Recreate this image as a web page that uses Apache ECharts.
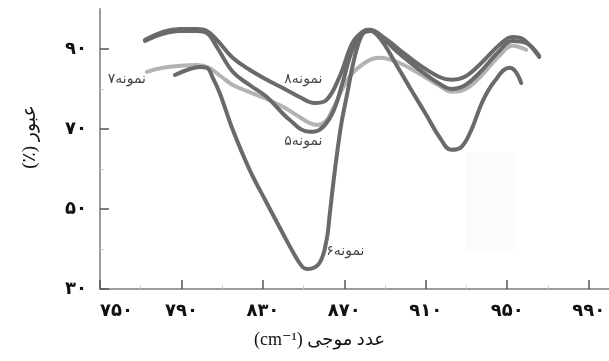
<!DOCTYPE html>
<html>
<head>
<meta charset="utf-8">
<script src="https://cdn.jsdelivr.net/npm/echarts@6/dist/echarts.min.js"></script>
<style>html,body{margin:0;padding:0;background:#fff}#c{width:609px;height:361px}</style>
</head>
<body>
<div id="c"></div>
<script>
// ---- data ----
const xTicks = [750, 790, 830, 870, 910, 950, 990];
const xMinor = [770, 810, 850, 890, 930, 970];
const yTicks = [30, 50, 70, 90];
const yMinor = [40, 60, 80];

const sample8 = [[772.1,92.3],[780.9,94.3],[789.2,95.0],[797.5,95.0],[802.5,94.5],[807.4,92.3],[815.2,87.8],[823.5,84.8],[831.9,82.3],[840.7,80.0],[848.0,78.0],[855.4,76.5],[861.3,77.3],[867.6,83.0],[874.0,91.5],[878.9,94.3],[882.4,94.8],[889.7,92.8],[897.1,89.8],[906.9,86.0],[916.7,83.0],[922.5,82.3],[928.9,83.0],[936.3,86.0],[946.1,91.0],[952.5,93.0],[958.3,92.3],[965.7,88.0]];
const sample5 = [[772.1,92.0],[780.9,93.8],[789.2,94.5],[797.5,94.5],[802.5,94.0],[807.4,90.5],[815.2,84.3],[823.5,81.0],[831.9,78.0],[843.1,72.3],[852.9,69.3],[857.8,69.8],[864.2,74.0],[869.1,81.5],[874.0,89.8],[878.9,93.8],[883.3,94.5],[889.7,92.3],[897.1,88.8],[906.9,84.8],[916.7,81.3],[923.0,80.0],[928.9,80.8],[936.3,84.0],[946.1,89.5],[952.5,92.0],[959.3,91.5],[965.7,88.3]];
const sample7 = [[773.0,84.3],[780.9,85.3],[789.2,85.8],[797.5,86.0],[803.5,85.3],[809.8,83.0],[815.2,81.0],[823.5,79.2],[831.9,77.5],[840.7,75.3],[848.0,73.0],[852.9,71.5],[856.9,71.0],[861.0,72.0],[864.2,74.8],[872.5,83.0],[880.9,86.8],[887.3,87.8],[897.1,86.5],[906.9,83.8],[916.7,80.8],[923.0,79.3],[928.9,79.8],[936.3,82.8],[946.1,88.3],[952.5,90.8],[959.3,89.8]];
const sample6 = [[786.8,83.5],[794.1,85.0],[799.0,85.5],[802.5,85.3],[805.4,82.8],[808.8,79.0],[815.2,69.8],[823.5,59.8],[831.9,51.5],[839.7,44.0],[845.6,38.5],[849.5,35.5],[852.0,35.0],[857.8,36.5],[861.3,42.3],[862.7,48.0],[864.2,54.8],[866.2,63.0],[868.6,71.5],[871.1,78.0],[875.0,87.8],[878.4,93.3],[881.4,94.8],[887.3,92.8],[895.6,86.0],[903.4,79.3],[910.3,73.5],[916.7,68.0],[922.5,64.8],[927.5,65.5],[932.4,69.8],[937.8,76.8],[943.6,81.8],[951.0,85.3],[953.9,84.5],[956.9,81.5]];

const seriesLabels = ['نمونه۸', 'نمونه۵', 'نمونه۶', 'نمونه۷'];
const labelAnchors = [[849.9, 82.3], [849.9, 66.8], [870.5, 39.3], [763.2, 82.3]];

const xName = '(cm⁻¹) عدد موجی';
const yName = '(٪) عبور';

// ---- helpers ----
const fa = d => String(d).replace(/[0-9]/g, c => '۰۱۲۳۴۵۶۷۸۹'[+c]);
const FONT = '"Liberation Serif", "DejaVu Sans", serif';
const DARK = '#6a6a6a', LIGHT = '#b3b3b3';

const chart = echarts.init(document.getElementById('c'), null, {renderer: 'canvas'});

function lineSeries(name, data, color) {
  return {
    name, type: 'line', data, smooth: 0.4, showSymbol: false, symbol: 'none',
    lineStyle: {color, width: 4, cap: 'round', join: 'round'},
    itemStyle: {color}, animation: false
  };
}

chart.setOption({
  animation: false,
  backgroundColor: '#fff',
  graphic: [{
    type: 'rect', z: -10, silent: true,
    shape: {x: 466, y: 153, width: 49, height: 97},
    style: {fill: '#fbfbfb'}
  }],
  grid: {left: 100, top: 9, width: 510, height: 280, containLabel: false},
  xAxis: [{
    type: 'value', min: 750, max: 1000,
    name: xName, nameLocation: 'middle', nameGap: 42,
    nameTextStyle: {fontFamily: FONT, fontSize: 18, color: '#111', padding: [0, 70, 0, 0]},
    axisLine: {show: true, lineStyle: {color: '#9c9c9c', width: 2}},
    axisTick: {show: true, inside: true, length: 9, customValues: xTicks, lineStyle: {color: '#555', width: 1.5}},
    axisLabel: {customValues: xTicks, formatter: v => fa(v), margin: 13, fontFamily: FONT, fontSize: 18, fontWeight: 'bold', color: '#111', alignMinLabel: 'left'},
    splitLine: {show: false}
  }, {
    type: 'value', min: 750, max: 1000, position: 'bottom',
    axisLine: {show: false},
    axisTick: {show: true, inside: true, length: 4, customValues: xMinor, lineStyle: {color: '#d0d0d0', width: 1}},
    axisLabel: {show: false}, splitLine: {show: false}
  }],
  yAxis: [{
    type: 'value', min: 30, max: 100,
    name: yName, nameLocation: 'middle', nameGap: 60, nameRotate: 90,
    nameTextStyle: {fontFamily: FONT, fontSize: 19, color: '#111', padding: [0, 0, 0, 24]},
    axisLine: {show: true, lineStyle: {color: '#9c9c9c', width: 2}},
    axisTick: {show: true, inside: true, length: 9, customValues: yTicks, lineStyle: {color: '#555', width: 1.5}},
    axisLabel: {customValues: yTicks, formatter: v => fa(v), margin: 13, fontFamily: FONT, fontSize: 18, fontWeight: 'bold', color: '#111'},
    splitLine: {show: false}
  }, {
    type: 'value', min: 30, max: 100, position: 'left',
    axisLine: {show: false},
    axisTick: {show: true, inside: true, length: 4, customValues: yMinor, lineStyle: {color: '#d0d0d0', width: 1}},
    axisLabel: {show: false}, splitLine: {show: false}
  }],
  series: [
    lineSeries('sample7', sample7, LIGHT),
    lineSeries('sample6', sample6, DARK),
    lineSeries('sample5', sample5, DARK),
    lineSeries('sample8', sample8, DARK),
    {
      type: 'scatter', symbolSize: 0, animation: false, silent: true,
      data: seriesLabels.map((n, i) => ({name: n, value: labelAnchors[i]})),
      label: {show: true, position: 'inside', formatter: p => p.name,
        fontFamily: FONT, fontSize: 14, color: '#111'}
    }
  ]
});
</script>
</body>
</html>
